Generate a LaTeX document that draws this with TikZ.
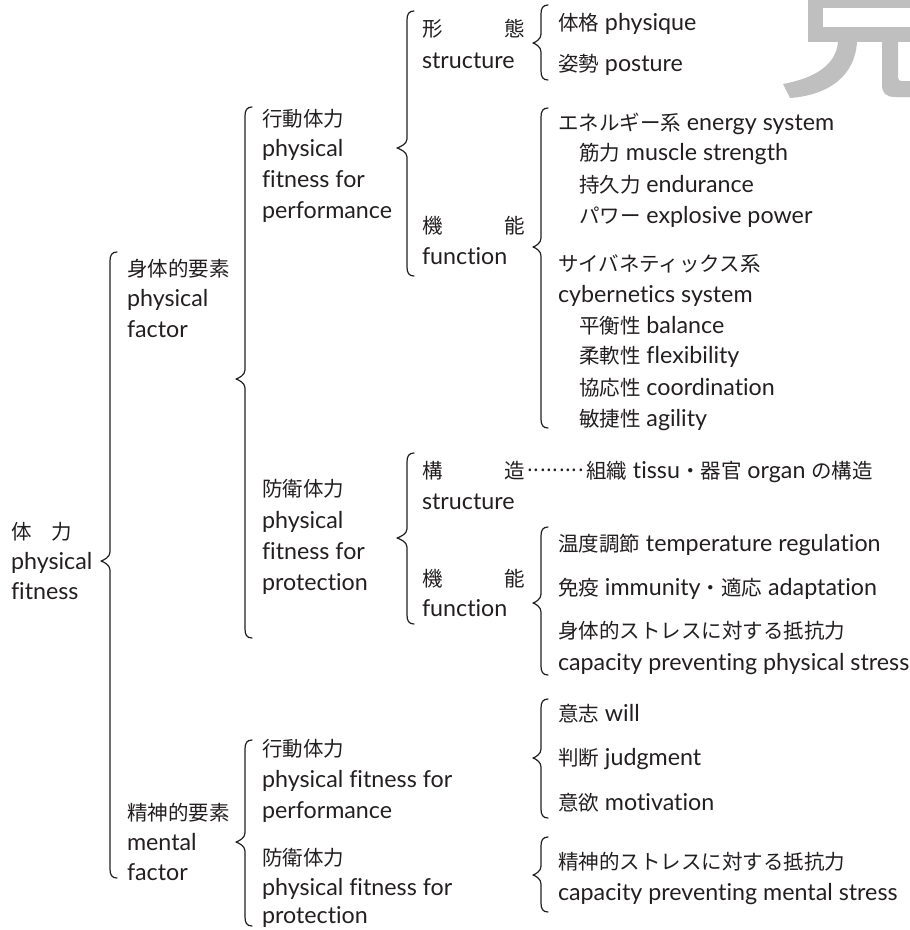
\documentclass[tikz,border=0pt]{standalone}
\usepackage{fontspec}
\setmainfont{Lato}[Scale=1.135, RawFeature={-liga;-clig}]
\newfontfamily\cjk{Noto Sans CJK JP}
\usetikzlibrary{calc}
\definecolor{ink}{RGB}{35,31,32}
\definecolor{ghost}{RGB}{191,191,191}
\tikzset{
  lbl/.style={anchor=mid west, inner sep=0pt, outer sep=0pt, text=ink, yshift=-6pt,
    font=\fontsize{20.5}{24}\selectfont},
  brc/.style={draw=ink, line width=1.2pt, line cap=round, line join=round},
}
\newcommand\curly[3]{%
  \draw[brc] let \p1=(#1), \p2=(#2), \p3=(#3) in
    (\x1+7pt,\y1) .. controls (\x1+2pt,\y1) and (\x1,\y1-3pt) .. (\x1,\y1-9pt)
    -- (\x1,\y2+9pt) .. controls (\x1,\y2+4pt) and (\x2+3pt,\y2+1pt) .. (\x2,\y2)
    .. controls (\x2+3pt,\y2-1pt) and (\x1,\y2-4pt) .. (\x1,\y2-9pt)
    -- (\x1,\y3+9pt) .. controls (\x1,\y3+3pt) and (\x1+2pt,\y3) .. (\x1+7pt,\y3);}
\newcommand\cjkgap[1]{\hspace*{#1em}}
\newcommand\dotd{\raisebox{0.36em}{.}}
\newcommand\dotleader{\makebox[3em][s]{\hspace{0.15em}\dotd\hfill\dotd\hfill\dotd\hfill\dotd\hfill\dotd\hfill\dotd\hfill\dotd\hfill\dotd\hfill\dotd\hspace{0.1em}}}
\begin{document}
\begin{tikzpicture}[x=1pt,y=-1pt]
\useasboundingbox (0,0) rectangle (910,930);
% ghost glyph fragment in the corner
\fill[ghost] (808,0) rectangle (910,8);
\fill[ghost] (808,0) rectangle (823,42);
\fill[ghost] (808,27) rectangle (910,42);
\fill[ghost] (838,42) -- (857,42) .. controls (855,75) and (830,95) .. (790,98)
  -- (783,84) .. controls (815,78) and (836,65) .. (838,42) -- cycle;
\fill[ghost] (882,42) -- (898,42) -- (898,77) .. controls (898,80) and (899,81) .. (903,81)
  -- (910,81) -- (910,97) -- (895,97) .. controls (886,97) and (882,93) .. (882,85) -- cycle;

% column 1
\node[lbl] (t1) at (11,531) {{\cjk 体\cjkgap{1}力}};
\node[lbl] (t2) at (11,561) {physical};
\node[lbl] (t3) at (11,591) {fitness};
% column 2
\node[lbl] (pf1) at (127,268) {{\cjk 身体的要素}};
\node[lbl] (pf2) at (127,298) {physical};
\node[lbl] (pf3) at (127,329) {factor};
\node[lbl] (mf1) at (127,812) {{\cjk 精神的要素}};
\node[lbl] (mf2) at (127,842) {mental};
\node[lbl] (mf3) at (127,872) {factor};
% column 3
\node[lbl] (pp1) at (262,118) {{\cjk 行動体力}};
\node[lbl] (pp2) at (262,148) {physical};
\node[lbl] (pp3) at (262,179) {fitness for};
\node[lbl] (pp4) at (262,210) {performance};
\node[lbl] (pr1) at (262,488) {{\cjk 防衛体力}};
\node[lbl] (pr2) at (262,520) {physical};
\node[lbl] (pr3) at (262,551) {fitness for};
\node[lbl] (pr4) at (262,582) {protection};
\node[lbl] (mp1) at (262,748) {{\cjk 行動体力}};
\node[lbl] (mp2) at (262,779) {physical fitness for};
\node[lbl] (mp3) at (262,810) {performance};
\node[lbl] (mr1) at (262,857) {{\cjk 防衛体力}};
\node[lbl] (mr2) at (262,887) {physical fitness for};
\node[lbl] (mr3) at (262,915) {protection};
% column 4
\node[lbl] (s1) at (422,28) {{\cjk 形\cjkgap{3}態}};
\node[lbl] (s2) at (422,60) {structure};
\node[lbl] (f1) at (422,225) {{\cjk 機\cjkgap{3}能}};
\node[lbl] (f2) at (422,256) {function};
\node[lbl] (s3) at (422,470) {{\cjk 構\cjkgap{3}造\dotleader 組織} tissu{\cjk ・器官} organ {\cjk の構造}};
\node[lbl] (s4) at (422,501) {structure};
\node[lbl] (f3) at (422,578) {{\cjk 機\cjkgap{3}能}};
\node[lbl] (f4) at (422,608) {function};
% column 5
\node[lbl] (a1) at (558,22) {{\cjk 体格} physique};
\node[lbl] (a2) at (558,63) {{\cjk 姿勢} posture};
\node[lbl] (e1) at (558,122) {{\cjk エネルギー系} energy system};
\node[lbl] (e2) at (579,152) {{\cjk 筋力} muscle strength};
\node[lbl] (e3) at (579,184) {{\cjk 持久力} endurance};
\node[lbl] (e4) at (579,215) {{\cjk パワー} explosive power};
\node[lbl] (c1) at (558,263) {{\cjk サイバネティックス系}};
\node[lbl] (c2) at (558,294) {cybernetics system};
\node[lbl] (c3) at (579,325) {{\cjk 平衡性} balance};
\node[lbl] (c4) at (579,355) {{\cjk 柔軟性} flexibility};
\node[lbl] (c5) at (579,387) {{\cjk 協応性} coordination};
\node[lbl] (c6) at (579,418) {{\cjk 敏捷性} agility};
\node[lbl] (d1) at (558,543) {{\cjk 温度調節} temperature regulation};
\node[lbl] (d2) at (558,587) {{\cjk 免疫} immunity{\cjk ・適応} adaptation};
\node[lbl] (d3) at (558,630) {{\cjk 身体的ストレスに対する抵抗力}};
\node[lbl] (d4) at (558,662) {capacity preventing physical stress};
\node[lbl] (w1) at (558,713) {{\cjk 意志} will};
\node[lbl] (w2) at (558,757) {{\cjk 判断} judgment};
\node[lbl] (w3) at (558,802) {{\cjk 意欲} motivation};
\node[lbl] (r1) at (558,861) {{\cjk 精神的ストレスに対する抵抗力}};
\node[lbl] (r2) at (558,892) {capacity preventing mental stress};

% brace anchor points
\coordinate (b1t) at (110,252); \coordinate (b1m) at (101,561); \coordinate (b1b) at (110,878);
\coordinate (b2t) at (245,107); \coordinate (b2m) at (236,379); \coordinate (b2b) at (245,638);
\coordinate (b3t) at (245,740); \coordinate (b3m) at (236,842); \coordinate (b3b) at (245,926);
\coordinate (b4t) at (407,11);  \coordinate (b4m) at (397,148); \coordinate (b4b) at (407,276);
\coordinate (b5t) at (407,453); \coordinate (b5m) at (397,538); \coordinate (b5b) at (407,624);
\coordinate (b6t) at (541,5);   \coordinate (b6m) at (533,43);  \coordinate (b6b) at (541,80);
\coordinate (b7t) at (541,108); \coordinate (b7m) at (533,247); \coordinate (b7b) at (541,428);
\coordinate (b8t) at (541,527); \coordinate (b8m) at (533,603); \coordinate (b8b) at (541,675);
\coordinate (b9t) at (541,699); \coordinate (b9m) at (533,758); \coordinate (b9b) at (541,818);
\coordinate (b10t) at (541,837); \coordinate (b10m) at (533,875); \coordinate (b10b) at (541,912);
\curly{b1t}{b1m}{b1b}
\curly{b2t}{b2m}{b2b}
\curly{b3t}{b3m}{b3b}
\curly{b4t}{b4m}{b4b}
\curly{b5t}{b5m}{b5b}
\curly{b6t}{b6m}{b6b}
\curly{b7t}{b7m}{b7b}
\curly{b8t}{b8m}{b8b}
\curly{b9t}{b9m}{b9b}
\curly{b10t}{b10m}{b10b}
\end{tikzpicture}
\end{document}
